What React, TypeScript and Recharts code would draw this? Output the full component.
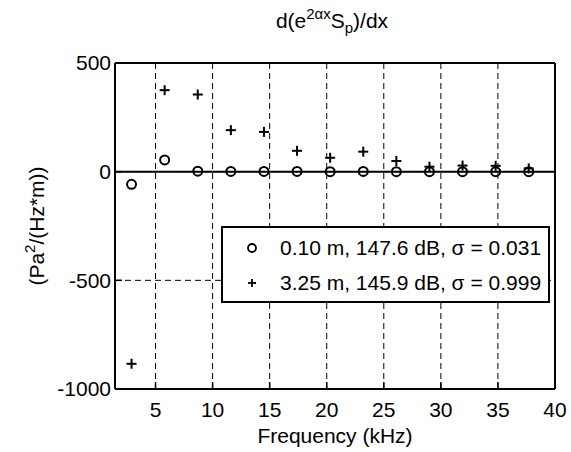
import React from "react";
import {
  CartesianGrid,
  ReferenceLine,
  Scatter,
  ScatterChart,
  XAxis,
  YAxis,
} from "recharts";

const font = "'Liberation Sans', Arial, Helvetica, sans-serif";

const freqs = [2.9, 5.8, 8.7, 11.6, 14.5, 17.4, 20.3, 23.2, 26.1, 29.0, 31.9, 34.8, 37.7];
const nearValues = [-58, 54, 2, 1, 1, 1, 0, 1, 0, 0, 0, 0, 0];
const farValues = [-884, 375, 355, 191, 183, 96, 64, 92, 49, 23, 28, 27, 15];
const xTicks = [5, 10, 15, 20, 25, 30, 35, 40];
const yTicks = [-1000, -500, 0, 500];
const legendLabels = [
  "0.10 m, 147.6 dB, \u03c3 = 0.031",
  "3.25 m, 145.9 dB, \u03c3 = 0.999",
];

const nearData = freqs.map((f, i) => ({ f, v: nearValues[i] }));
const farData = freqs.map((f, i) => ({ f, v: farValues[i] }));

const CircleMark = (p: any) => (
  <circle cx={p.cx} cy={p.cy} r={4.5} fill="none" stroke="#000" strokeWidth={2} />
);

const PlusMark = (p: any) => (
  <g stroke="#000" strokeWidth={2}>
    <line x1={p.cx - 5} x2={p.cx + 5} y1={p.cy} y2={p.cy} />
    <line x1={p.cx} x2={p.cx} y1={p.cy - 5} y2={p.cy + 5} />
  </g>
);

const NoMark = () => <g />;

const Title = () => (
  <text x={332} y={28} textAnchor="middle" fontSize={21} fontFamily={font} fill="#000">
    d(e
    <tspan fontSize={15} dy={-9}>2αx</tspan>
    <tspan dy={9}>S</tspan>
    <tspan fontSize={15} dy={5}>p</tspan>
    <tspan dy={-5}>)/dx</tspan>
  </text>
);

const XLabel = () => (
  <text x={335} y={443} textAnchor="middle" fontSize={21} fontFamily={font} fill="#000">
    Frequency (kHz)
  </text>
);

const YLabel = () => (
  <text
    x={0}
    y={0}
    transform="translate(44,226) rotate(-90)"
    textAnchor="middle"
    fontSize={21}
    fontFamily={font}
    fill="#000"
  >
    (Pa
    <tspan fontSize={15} dy={-9}>2</tspan>
    <tspan dy={9}>/(Hz*m))</tspan>
  </text>
);

export default function App() {
  const tick = { fill: "#000", fontSize: 21, fontFamily: font };
  const axisLine = { stroke: "#000", strokeWidth: 2 };
  const tickLine = { stroke: "#000", strokeWidth: 1.5 };
  return (
    <div style={{ position: "absolute", left: 0, top: 0, width: 571, height: 452, background: "#fff" }}>
      <ScatterChart width={571} height={452} margin={{ top: 62, right: 15, bottom: 0, left: 0 }}>
        <CartesianGrid stroke="#000" strokeDasharray="6 4" strokeWidth={1} />
        <XAxis
          type="number"
          dataKey="f"
          domain={[1.45, 40]}
          allowDataOverflow
          ticks={xTicks}
          interval={0}
          height={63}
          tick={tick}
          tickSize={-7}
          tickMargin={20}
          axisLine={axisLine}
          tickLine={tickLine}
          label={<XLabel />}
        />
        <XAxis
          xAxisId="top"
          orientation="top"
          type="number"
          dataKey="f"
          domain={[1.45, 40]}
          allowDataOverflow
          ticks={xTicks}
          interval={0}
          height={1}
          tick={false}
          tickSize={-7}
          axisLine={axisLine}
          tickLine={tickLine}
        />
        <YAxis
          type="number"
          dataKey="v"
          domain={[-1000, 500]}
          allowDataOverflow
          ticks={yTicks}
          interval={0}
          width={115}
          tick={tick}
          tickSize={-7}
          tickMargin={11}
          axisLine={axisLine}
          tickLine={tickLine}
          label={<YLabel />}
        />
        <YAxis
          yAxisId="right"
          orientation="right"
          type="number"
          dataKey="v"
          domain={[-1000, 500]}
          allowDataOverflow
          ticks={yTicks}
          interval={0}
          width={1}
          tick={false}
          tickSize={-7}
          axisLine={axisLine}
          tickLine={tickLine}
        />
        <ReferenceLine y={0} stroke="#000" strokeWidth={2} />
        <Scatter data={nearData} shape={CircleMark} isAnimationActive={false} />
        <Scatter data={farData} shape={PlusMark} isAnimationActive={false} />
        <Scatter
          data={nearData}
          xAxisId="top"
          yAxisId="right"
          shape={NoMark}
          legendType="none"
          isAnimationActive={false}
        />
      </ScatterChart>
      <svg
        width={571}
        height={45}
        style={{ position: "absolute", left: 0, top: 0, pointerEvents: "none" }}
      >
        <Title />
      </svg>
      <div
        style={{
          position: "absolute",
          left: 221,
          top: 226,
          width: 329,
          height: 77,
          boxSizing: "border-box",
          border: "2px solid #000",
          background: "#fff",
          fontFamily: font,
          fontSize: 21,
          color: "#000",
        }}
      >
        {legendLabels.map((label, i) => (
          <div
            key={label}
            style={{ position: "absolute", left: 0, top: i === 0 ? 7 : 42, height: 26, display: "flex", alignItems: "center", whiteSpace: "nowrap" }}
          >
            <svg width={57} height={26} style={{ display: "block" }}>
              {i === 0 ? (
                <circle cx={29} cy={13} r={4} fill="none" stroke="#000" strokeWidth={1.8} />
              ) : (
                <g stroke="#000" strokeWidth={1.8}>
                  <line x1={25} x2={33} y1={13} y2={13} />
                  <line x1={29} x2={29} y1={9} y2={17} />
                </g>
              )}
            </svg>
            <span>{label}</span>
          </div>
        ))}
      </div>
    </div>
  );
}
